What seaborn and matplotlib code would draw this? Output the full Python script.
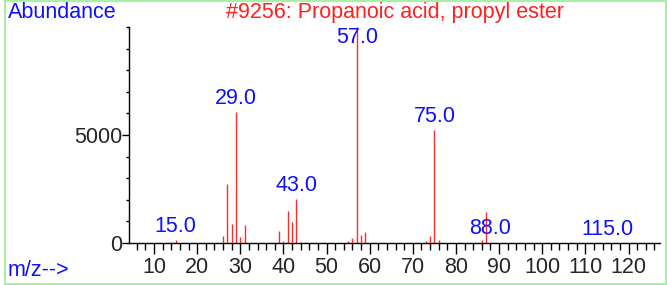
import matplotlib
matplotlib.use('Agg')
import matplotlib.pyplot as plt
import seaborn as sns
from matplotlib.patches import Rectangle
from matplotlib.ticker import MultipleLocator, FixedLocator

# spectrum values
mz = [14, 15, 26, 27, 28, 29, 30, 31, 38, 39, 40, 41, 42, 43, 44, 45,
      55, 56, 57, 58, 59, 73, 74, 75, 76, 86, 87, 88, 115]
abundance = [50, 150, 320, 2730, 880, 6070, 280, 830, 50, 560, 100, 1480, 970, 2040, 60, 50,
             110, 250, 9999, 370, 510, 100, 320, 5230, 150, 150, 1430, 50, 15]

# peak labels
label_mz = [15, 29, 43, 57, 75, 88, 115]
label_text = ['15.0', '29.0', '43.0', '57.0', '75.0', '88.0', '115.0']

y_ticks = [0, 5000]
title = '#9256: Propanoic acid, propyl ester'

sns.set_style('ticks')
plt.rcParams['font.family'] = ['Liberation Sans', 'DejaVu Sans']
fs = 15.5

fig = plt.figure(figsize=(6.67, 2.85), dpi=100)
ax = fig.add_axes([129 / 667, 1 - 243 / 285, (660 - 129) / 667, (243 - 27) / 285])

ax.vlines(mz, 0, abundance, color='#ff2a2a', lw=1.0)

ab = dict(zip(mz, abundance))
for m, t in zip(label_mz, label_text):
    y = min(ab.get(m, 0), 8900)
    ax.annotate(t, (m, y), xytext=(0, 2), textcoords='offset points',
                ha='center', va='bottom', color='#1010ff', fontsize=fs)

ax.set_xlim(4.2, 127.3)
ax.set_ylim(0, 10000)
ax.xaxis.set_major_locator(MultipleLocator(10))
ax.xaxis.set_minor_locator(MultipleLocator(2))
ax.yaxis.set_major_locator(FixedLocator(y_ticks))
ax.yaxis.set_minor_locator(MultipleLocator(1000))
ax.tick_params(axis='x', which='major', length=8, width=1, labelsize=fs, pad=2, color='black')
ax.tick_params(axis='x', which='minor', length=5, width=1, color='black')
ax.tick_params(axis='y', which='major', length=5, width=1, labelsize=fs, pad=0, color='black')
ax.tick_params(axis='y', which='minor', length=2.5, width=1, color='black')
sns.despine(ax=ax)
for s in ['left', 'bottom']:
    ax.spines[s].set_color('black')
    ax.spines[s].set_linewidth(1)
ax.grid(False)

fig.text(8 / 667, 1 - 2 / 285, 'Abundance', color='#1010ff', fontsize=fs, ha='left', va='top')
fig.text(8 / 667, 1 - 281 / 285, 'm/z-->', color='#1010ff', fontsize=fs, ha='left', va='bottom')
fig.text(395 / 667, 1 - 2 / 285, title, color='#ff2020', fontsize=fs, ha='center', va='top')

fig.patches.append(Rectangle((0.008, 0.004), 0.99, 0.994, transform=fig.transFigure,
                             fill=False, edgecolor='#a8f0a8', lw=1.5))

fig.savefig('out.png', dpi=100)
